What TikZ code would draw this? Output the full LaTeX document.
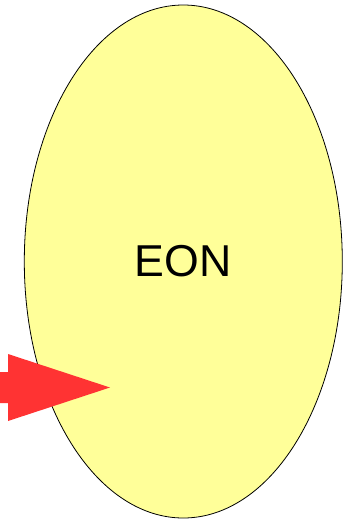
\documentclass[tikz,border=0pt]{standalone}
\usepackage{fontspec}
\setmainfont{Liberation Sans}
\usetikzlibrary{shapes.geometric}

\begin{document}
\begin{tikzpicture}[x=0.75pt,y=0.75pt,yscale=-1,xscale=1]
\useasboundingbox (0,0) rectangle (351,519);

%Ellipse
\node (eon) [ellipse, draw=black, fill={rgb, 255:red, 255; green, 255; blue, 153 }, line width=0.6pt, inner sep=0pt, minimum width=238.5pt, minimum height=384.75pt, font=\fontsize{33.5}{36}\selectfont] at (183.3,261.5) {EON};
%Arrow
\fill [color={rgb, 255:red, 255; green, 51; blue, 51 }] (0,372) -- (8,372) -- (8,354) -- (110,387.5) -- (8,421) -- (8,403) -- (0,403) -- cycle ;

\end{tikzpicture}
\end{document}
